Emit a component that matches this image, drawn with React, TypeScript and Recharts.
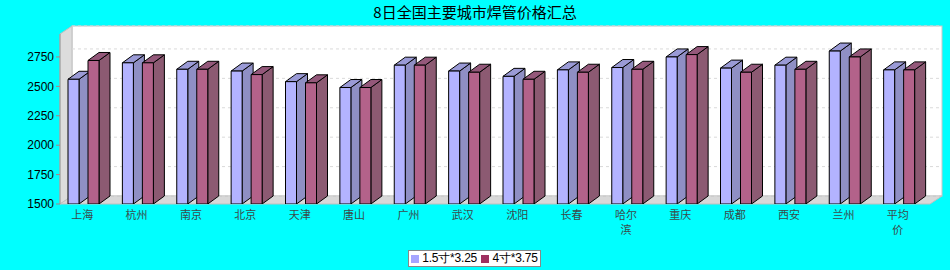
import React from 'react'
import { BarChart, Bar, XAxis, YAxis, CartesianGrid } from 'recharts'

const cities = ['上海', '杭州', '南京', '北京', '天津', '唐山', '广州', '武汉', '沈阳', '长春', '哈尔滨', '重庆', '成都', '西安', '兰州', '平均价']
const pipe15 = [2560, 2700, 2645, 2630, 2540, 2490, 2680, 2630, 2585, 2640, 2660, 2750, 2655, 2680, 2800, 2640]
const pipe4 = [2720, 2700, 2645, 2600, 2530, 2490, 2680, 2620, 2560, 2620, 2645, 2770, 2620, 2645, 2750, 2640]
const yTicks = [1500, 1750, 2000, 2250, 2500, 2750]
const seriesNames = ['1.5寸*3.25', '4寸*3.75']

const W = 950
const H = 270
const LEFT = 60
const RIGHT = 930
const TOP = 34
const BOTTOM = 204
const WALL_DX = 12
const WALL_DY = 8
const BAR_DX = 11
const BAR_DY = 8

const data = cities.map((city, i) => ({ city, a: pipe15[i], b: pipe4[i] }))

function make3DBar(front: string, top: string, side: string) {
  return (props: any) => {
    const { width, height } = props
    const x = props.x - 4
    const y = props.y
    if (width == null || height == null) return null
    const r = x + width
    const b = y + height
    return (
      <g stroke="#000" strokeWidth={1} strokeLinejoin="round">
        <polygon points={`${r},${y} ${r + BAR_DX},${y - BAR_DY} ${r + BAR_DX},${b - BAR_DY} ${r},${b}`} fill={side} />
        <polygon points={`${x},${y} ${x + BAR_DX},${y - BAR_DY} ${r + BAR_DX},${y - BAR_DY} ${r},${y}`} fill={top} />
        <rect x={x} y={y} width={width} height={height} fill={front} />
      </g>
    )
  }
}

const CityTick = (props: any) => {
  const { x, y, payload } = props
  const label: string = payload.value
  const lines: string[] = []
  for (let i = 0; i < label.length; i += 2) lines.push(label.slice(i, i + 2))
  return (
    <text x={x - 5} y={y} textAnchor="middle" fill="#3a4a4a" fontSize={11} fontFamily="'Noto Sans CJK SC'">
      {lines.map((ln, i) => (
        <tspan key={i} x={x - 5} dy={i === 0 ? 13 : 15}>{ln}</tspan>
      ))}
    </text>
  )
}

export default function App() {
  return (
    <div style={{ position: 'relative', width: W, height: H, background: '#00ffff', overflow: 'hidden' }}>
      <style>{'body{margin:0}'}</style>
      <div style={{ position: 'absolute', top: 1, width: W, textAlign: 'center', fontSize: 15, fontFamily: "'Noto Sans CJK SC'", color: '#000' }}>
        8日全国主要城市焊管价格汇总
      </div>
      <svg width={W} height={H} style={{ position: 'absolute', left: 0, top: 0 }}>
        <rect x={LEFT + WALL_DX} y={TOP - WALL_DY} width={RIGHT - LEFT} height={BOTTOM - TOP} fill="#fff" stroke="#c8c8c8" />
        <polygon
          points={`${LEFT},${BOTTOM} ${LEFT},${TOP} ${LEFT + WALL_DX},${TOP - WALL_DY} ${LEFT + WALL_DX},${BOTTOM - WALL_DY}`}
          fill="#dcdcdc" stroke="#c0c0c0"
        />
        <polygon
          points={`${LEFT},${BOTTOM} ${LEFT + WALL_DX},${BOTTOM - WALL_DY} ${RIGHT + WALL_DX},${BOTTOM - WALL_DY} ${RIGHT},${BOTTOM}`}
          fill="#d8d8d8" stroke="#c0c0c0"
        />
      </svg>
      <div style={{ position: 'absolute', left: 0, top: 0 }}>
        <BarChart width={W} height={H} data={data} margin={{ top: TOP, right: W - RIGHT, bottom: 26, left: 0 }} barSize={11} barGap={9}>
          <CartesianGrid
            vertical={false}
            horizontal={(p: any) => (
              <line key={p.key} x1={p.x1 + WALL_DX} y1={p.y1 - WALL_DY} x2={p.x2 + WALL_DX} y2={p.y2 - WALL_DY} stroke="#dadada" strokeDasharray="3 3" />
            )}
          />
          <XAxis dataKey="city" height={40} axisLine={false} tickLine={false} tickSize={0} interval={0} tick={<CityTick />} />
          <YAxis
            width={LEFT}
            domain={[1500, 2945]}
            ticks={yTicks}
            allowDataOverflow
            axisLine={{ stroke: '#999' }}
            tickLine={{ stroke: '#b08080' }}
            tickSize={4}
            tick={{ fill: '#000', fontSize: 12, fontFamily: "'Liberation Sans'" }}
          />
          <Bar dataKey="a" isAnimationActive={false} shape={make3DBar('#b3b3ff', '#9a9ad6', '#8f8fc4')} />
          <Bar dataKey="b" isAnimationActive={false} shape={make3DBar('#b3628a', '#94587a', '#8c5a72')} />
        </BarChart>
      </div>
      <div
        style={{
          position: 'absolute', left: 408, top: 250, width: 131, height: 15, background: '#fff', border: '1px solid #888',
          display: 'flex', alignItems: 'center', justifyContent: 'space-around', fontSize: 12, fontFamily: "'Liberation Sans'",
          color: '#000', whiteSpace: 'nowrap', letterSpacing: -0.2,
        }}
      >
        {seriesNames.map((n, i) => (
          <span key={n} style={{ display: 'flex', alignItems: 'center' }}>
            <span style={{ width: 8, height: 8, background: i === 0 ? '#a5a5ff' : '#9e3060', marginRight: 3, display: 'inline-block' }} />
            {n}
          </span>
        ))}
      </div>
    </div>
  )
}
